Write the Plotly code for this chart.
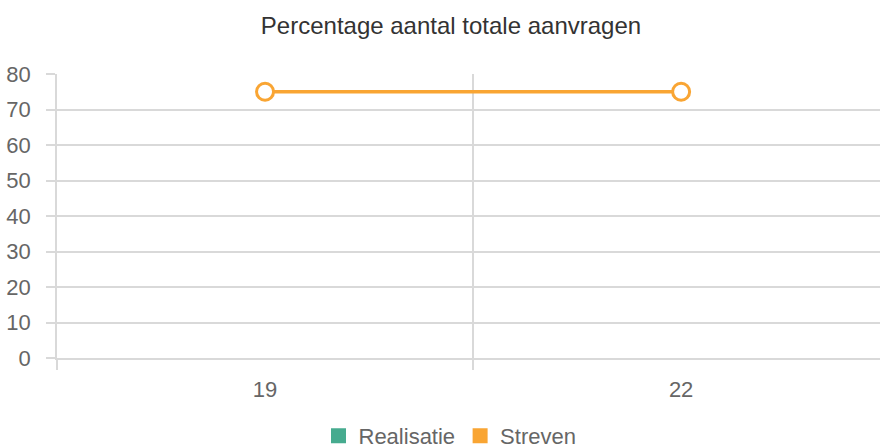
import plotly.graph_objects as go

categories = ["19", "22"]
realisatie = [None, None]
streven = [75, 75]
y_ticks = [0, 10, 20, 30, 40, 50, 60, 70, 80]

title_text = "Percentage aantal totale aanvragen"
teal = "#46ab8f"
orange = "#f9a533"
grid = "#d9d9d9"
font_family = "Liberation Sans, Arial, sans-serif"

fig = go.Figure()
fig.add_trace(go.Scatter(x=categories, y=realisatie, name="Realisatie", mode="markers",
                         marker=dict(color=teal, symbol="square", size=15), showlegend=True))
fig.add_trace(go.Scatter(x=categories, y=streven, name="Streven", mode="lines+markers",
                         line=dict(color=orange, width=3.5),
                         marker=dict(size=17, color="white", line=dict(color=orange, width=3)),
                         showlegend=False, cliponaxis=False))
# legend swatch for Streven (square like the reference)
fig.add_trace(go.Scatter(x=categories, y=[None, None], name="Streven", mode="markers",
                         marker=dict(color=orange, symbol="square", size=15), showlegend=True))

fig.update_layout(
    width=880, height=448,
    margin=dict(l=57, r=0, t=74, b=90, autoexpand=False),
    paper_bgcolor="white", plot_bgcolor="white",
    font=dict(family=font_family, size=22, color="#666666"),
    title=dict(text=title_text, x=451/880, xanchor="center", xref="container",
               y=1-26/448, yref="container", yanchor="middle",
               font=dict(size=24, color="#333333", family=font_family)),
    showlegend=True,
    legend=dict(orientation="h", x=450/880, xanchor="center", xref="container",
                y=1-436/448, yref="container", yanchor="middle",
                font=dict(size=22, color="#666666"), itemwidth=30, tracegroupgap=0,
                itemsizing="trace"),
)
fig.update_xaxes(type="category", range=[-0.5, 1.478], tickson="boundaries",
                 showgrid=True, gridcolor=grid, gridwidth=1.5,
                 ticks="outside", ticklen=10, tickcolor=grid, tickwidth=1.5,
                 showline=True, linecolor=grid, linewidth=1.5,
                 ticklabelstandoff=11)
fig.update_yaxes(range=[0, 80], tickvals=y_ticks, showgrid=True, gridcolor=grid, gridwidth=1.5,
                 ticks="outside", ticklen=9, tickcolor=grid, tickwidth=1.5,
                 showline=True, linecolor=grid, linewidth=1.5, zeroline=False,
                 ticklabelstandoff=11)

fig.write_html("out.html", config={"displayModeBar": False},
               post_script="document.body.style.margin='0';document.body.style.padding='0';")
